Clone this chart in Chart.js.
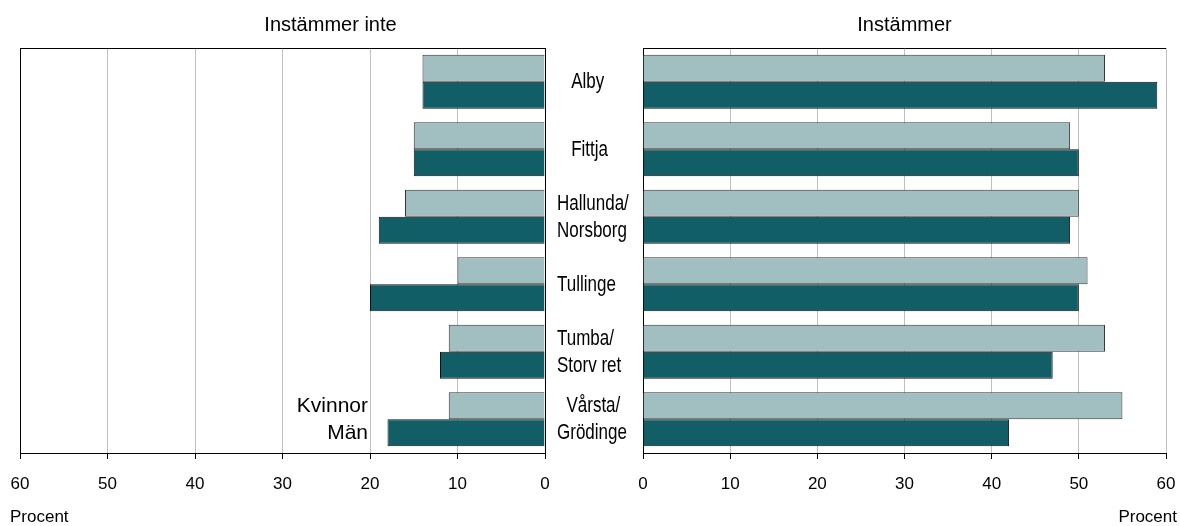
<!DOCTYPE html>
<html>
<head>
<meta charset="utf-8">
<script src="https://cdn.jsdelivr.net/npm/chart.js@4.4.1/dist/chart.umd.min.js"></script>
<style>
  body { margin: 0; background: #fff; }
  #wrap { position: relative; width: 1180px; height: 526px; }
  #left { position: absolute; left: 0; top: 0; width: 641px; height: 526px; }
  #right { position: absolute; left: 623px; top: 0; width: 557px; height: 526px; }
</style>
</head>
<body>
<div id="wrap">
  <div id="left"><canvas id="chartLeft"></canvas></div>
  <div id="right"><canvas id="chartRight"></canvas></div>
</div>
<script>
// kommundelar (y-axel)
const omraden = ['   Alby', '   Fittja', ['Hallunda/', 'Norsborg'], 'Tullinge', ['Tumba/', 'Storv ret'], ['  Vårsta/', 'Grödinge']];

// procent, instämmer inte
const inteKvinnor = [14, 15, 16, 10, 11, 11];
const inteMan = [14, 15, 19, 20, 12, 18];

// procent, instämmer
const instKvinnor = [53, 49, 50, 51, 53, 55];
const instMan = [59, 50, 49, 50, 47, 42];

const ljus = '#a1bec0';
const mork = '#115e66';
const fontFam = "'Liberation Sans', Arial, sans-serif";

Chart.defaults.font.family = fontFam;
Chart.defaults.color = '#000';

function makeDatasets(k, m) {
  return [
    { label: 'Kvinnor', data: k, backgroundColor: ljus, borderColor: '#333', borderWidth: 1,
      categoryPercentage: 0.8, barPercentage: 1.0 },
    { label: 'Män', data: m, backgroundColor: mork, borderColor: '#111', borderWidth: 1,
      categoryPercentage: 0.8, barPercentage: 1.0 }
  ];
}

// etiketter Kvinnor / Män bredvid sista gruppen
const sideLegend = {
  id: 'sideLegend',
  afterDatasetsDraw(chart) {
    const ctx = chart.ctx;
    const x = chart.scales.x.getPixelForValue(20) - 2;
    chart.data.datasets.forEach((ds, i) => {
      const bar = chart.getDatasetMeta(i).data[omraden.length - 1];
      ctx.save();
      ctx.font = '21px ' + fontFam;
      ctx.fillStyle = '#000';
      ctx.textAlign = 'right';
      ctx.textBaseline = 'middle';
      ctx.fillText(ds.label, x, bar.y);
      ctx.restore();
    });
  }
};

// kategorinamn, smal och hog stil som i originalet
const areaLabels = {
  id: 'areaLabels',
  afterDraw(chart) {
    const sc = chart.scales.y;
    const ctx = chart.ctx;
    ctx.save();
    ctx.font = '17px ' + fontFam;
    ctx.fillStyle = '#000';
    ctx.textAlign = 'left';
    ctx.textBaseline = 'middle';
    omraden.forEach((lbl, i) => {
      const lines = [].concat(lbl);
      lines.forEach((txt, j) => {
        const y = lines.length > 1 ? chart.getDatasetMeta(j).data[i].y : sc.getPixelForTick(i);
        ctx.save();
        ctx.translate(sc.left + 12, y);
        ctx.scale(1, 1.35);
        ctx.fillText(txt, 0, 0);
        ctx.restore();
      });
    });
    ctx.restore();
  }
};

// "Procent" under axeln, utanfor plotytan
const axisTitle = {
  id: 'axisTitle',
  afterDraw(chart, args, opts) {
    const sc = chart.scales.x;
    const ctx = chart.ctx;
    ctx.save();
    ctx.font = '17px ' + fontFam;
    ctx.fillStyle = '#000';
    ctx.textBaseline = 'middle';
    ctx.textAlign = opts.side;
    const x = opts.side === 'left' ? chart.chartArea.left - 10 : chart.chartArea.right + 11;
    ctx.fillText(opts.text, x, sc.bottom - 9);
    ctx.restore();
  }
};

function xScale(reverse, darkVals) {
  return {
    min: 0, max: 60, reverse: reverse,
    ticks: { stepSize: 10, font: { size: 17, lineHeight: 44 / 17 }, color: '#000', padding: 3 },
    grid: {
      color: c => (c.tick && darkVals.includes(c.tick.value)) ? '#000' : '#c0c0c0',
      tickColor: '#000', tickLength: 6, lineWidth: 1
    },
    border: { color: '#000' },
    // plats for "Procent", texten ritas av axisTitle
    title: { display: true, text: 'Procent', color: 'rgba(0,0,0,0)', font: { size: 17, lineHeight: 1 },
      padding: 0 }
  };
}

function yScale(pos) {
  return {
    position: pos,
    grid: { color: c => c.index === 0 ? '#000' : 'rgba(0,0,0,0)', drawTicks: false },
    border: { display: false },
    ticks: { display: false },
    afterFit: s => { s.width = pos === 'right' ? 96 : 0; }
  };
}

const titleOpts = (text, full) => ({
  display: true, text: text, fullSize: full, color: '#000',
  font: { size: 20, weight: 'normal', lineHeight: 1.2 }, padding: { top: 13, bottom: 11 }
});

new Chart(document.getElementById('chartLeft'), {
  type: 'bar',
  data: { labels: omraden, datasets: makeDatasets(inteKvinnor, inteMan) },
  options: {
    indexAxis: 'y',
    responsive: true, maintainAspectRatio: false, animation: false,
    layout: { padding: { left: 20, right: 0, top: 0, bottom: 0 } },
    plugins: {
      legend: { display: false },
      tooltip: { enabled: false },
      title: titleOpts('Instämmer inte', true),
      axisTitle: { text: 'Procent', side: 'left' }
    },
    scales: { x: xScale(true, [0, 60]), y: yScale('right') }
  },
  plugins: [sideLegend, areaLabels, axisTitle]
});

new Chart(document.getElementById('chartRight'), {
  type: 'bar',
  data: { labels: omraden, datasets: makeDatasets(instKvinnor, instMan) },
  options: {
    indexAxis: 'y',
    responsive: true, maintainAspectRatio: false, animation: false,
    layout: { padding: { left: 20, right: 14, top: 0, bottom: 0 } },
    plugins: {
      legend: { display: false },
      tooltip: { enabled: false },
      title: titleOpts('Instämmer', false),
      axisTitle: { text: 'Procent', side: 'right' }
    },
    scales: { x: xScale(false, [0]), y: yScale('left') }
  },
  plugins: [axisTitle]
});
</script>
</body>
</html>
